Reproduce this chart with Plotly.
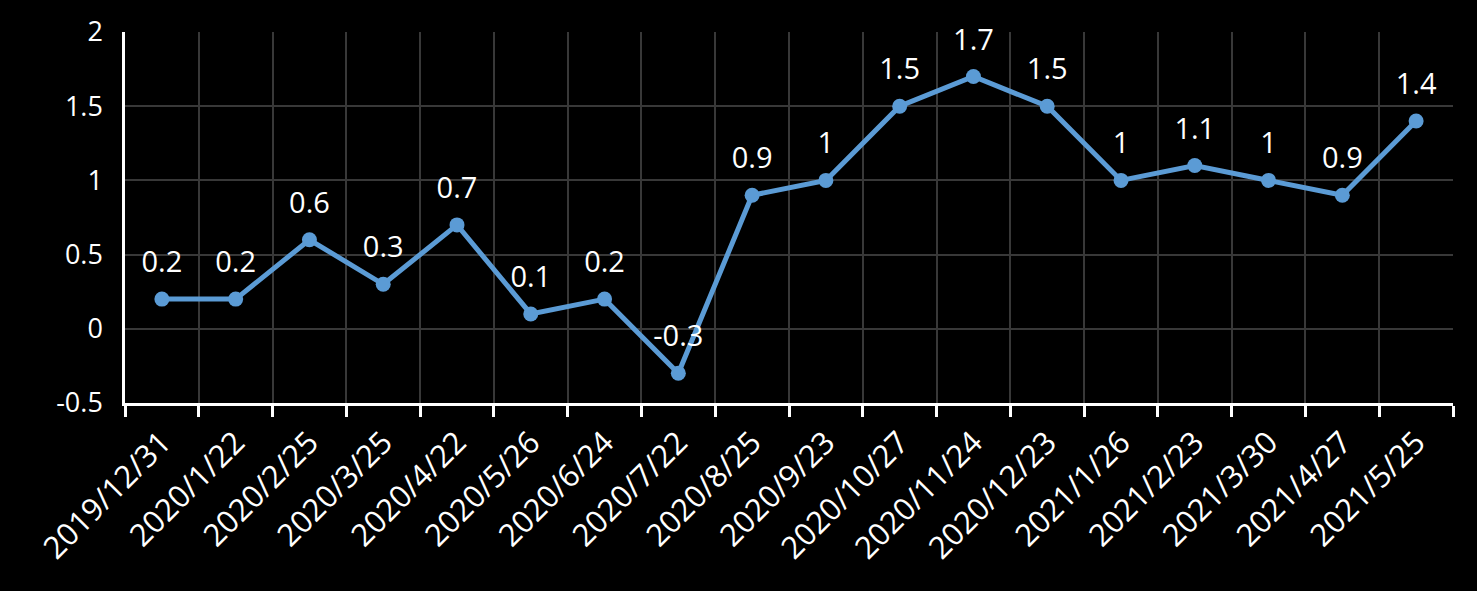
import plotly.graph_objects as go

dates = ["2019/12/31", "2020/1/22", "2020/2/25", "2020/3/25", "2020/4/22", "2020/5/26",
         "2020/6/24", "2020/7/22", "2020/8/25", "2020/9/23", "2020/10/27", "2020/11/24",
         "2020/12/23", "2021/1/26", "2021/2/23", "2021/3/30", "2021/4/27", "2021/5/25"]
values = [0.2, 0.2, 0.6, 0.3, 0.7, 0.1, 0.2, -0.3, 0.9, 1, 1.5, 1.7, 1.5, 1, 1.1, 1, 0.9, 1.4]
y_ticks = [-0.5, 0, 0.5, 1, 1.5, 2]

fig = go.Figure()
fig.add_trace(go.Scatter(
    x=dates, y=values, mode="lines+markers",
    line=dict(color="#5B9BD5", width=5),
    marker=dict(color="#5B9BD5", size=15),
    hoverinfo="skip",
))
# data labels (invisible larger markers give extra offset above points)
fig.add_trace(go.Scatter(
    x=dates, y=values, mode="markers+text",
    text=[str(v) for v in values], textposition="top center",
    textfont=dict(color="white", size=29, family="Open Sans"),
    marker=dict(color="rgba(0,0,0,0)", size=30),
    cliponaxis=False,
))

fig.update_layout(
    width=1477, height=591,
    paper_bgcolor="black", plot_bgcolor="black",
    margin=dict(l=125, r=24, t=27, b=188),
    showlegend=False,
    font=dict(family="Open Sans", color="white", size=26),
)
fig.update_xaxes(
    type="category", categoryorder="array", categoryarray=dates,
    range=[-0.5, len(dates) - 0.5],
    tickson="boundaries", showgrid=True, gridcolor="#383838", gridwidth=1.5,
    showline=True, linecolor="white", linewidth=2.5,
    ticks="outside", tickcolor="white", ticklen=11, tickwidth=2.5,
    tickangle=-45, ticklabelstandoff=6, tickfont=dict(size=31, color="white"),
)
fig.update_yaxes(
    range=[-0.5, 2], tickvals=y_ticks, ticktext=[str(t) for t in y_ticks],
    showgrid=True, gridcolor="#383838", gridwidth=1.5, zeroline=False,
    showline=True, linecolor="white", linewidth=2.5,
    ticks="", ticklabelstandoff=14, tickfont=dict(size=27, color="white"),
)

fig.write_html("out.html", config={"displayModeBar": False},
               post_script="document.body.style.margin='0';document.body.style.background='black';")
